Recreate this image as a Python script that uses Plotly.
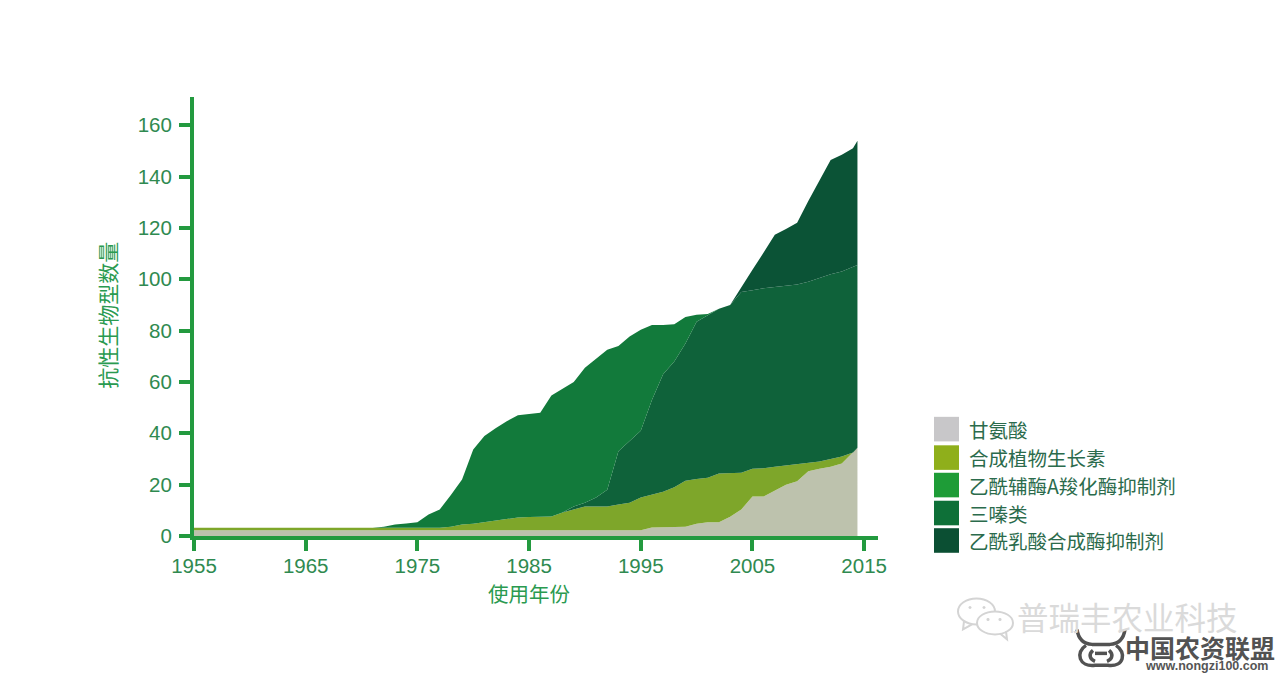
import plotly.graph_objects as go

years = list(range(1955, 2015)) + [2014.4]

glyphosate_top = [
    2.2, 2.2, 2.2, 2.2, 2.2, 2.2, 2.2, 2.2, 2.2, 2.2,
    2.2, 2.2, 2.2, 2.2, 2.2, 2.2, 2.2, 2.2, 2.2, 2.2,
    2.2, 2.2, 2.2, 2.2, 2.2, 2.2, 2.2, 2.2, 2.2, 2.2,
    2.2, 2.2, 2.2, 2.2, 2.2, 2.2, 2.2, 2.2, 2.2, 2.2,
    2.2, 3.3, 3.4, 3.5, 3.6, 4.8, 5.4, 5.4, 7.5, 10.3,
    15.4, 15.4, 17.8, 20.0, 21.3, 25.2, 26.2, 27.0, 28.2, 32.5, 34.4]
auxin_top = [
    3.2, 3.2, 3.2, 3.2, 3.2, 3.2, 3.2, 3.2, 3.2, 3.2,
    3.2, 3.2, 3.2, 3.2, 3.2, 3.2, 3.2, 3.2, 3.2, 3.2,
    3.2, 3.2, 3.2, 3.6, 4.5, 4.8, 5.4, 5.8, 6.5, 7.2,
    7.4, 7.6, 7.6, 9.2, 10.3, 11.5, 11.5, 11.5, 12.3, 13.0,
    15.0, 16.0, 17.2, 19.0, 21.5, 22.2, 22.7, 24.3, 24.5, 24.6,
    26.2, 26.4, 27.0, 27.5, 28.1, 28.5, 29.0, 30.0, 31.0, 32.5, 34.4]
dark_band_top = [
    3.2, 3.2, 3.2, 3.2, 3.2, 3.2, 3.2, 3.2, 3.2, 3.2,
    3.2, 3.2, 3.2, 3.2, 3.2, 3.2, 3.2, 3.2, 3.2, 3.2,
    3.2, 3.2, 3.2, 3.6, 4.5, 4.8, 5.4, 5.8, 6.5, 7.2,
    7.4, 7.6, 7.6, 9.2, 11.5, 13.0, 15.0, 18.0, 33.0, 37.0,
    41.0, 53.0, 63.0, 68.0, 75.0, 83.5, 86.0, 88.5, 90.0, 95.0,
    95.7, 96.5, 97.0, 97.5, 98.0, 99.0, 100.5, 102.0, 103.0, 105.0, 105.6]
light_band_top = [
    3.2, 3.2, 3.2, 3.2, 3.2, 3.2, 3.2, 3.2, 3.2, 3.2,
    3.2, 3.2, 3.2, 3.2, 3.2, 3.2, 3.2, 3.6, 4.5, 4.9,
    5.4, 8.4, 10.3, 16.0, 22.0, 33.7, 39.0, 42.0, 44.7, 47.0,
    47.4, 48.0, 54.7, 57.3, 60.0, 65.5, 69.0, 72.5, 74.0, 77.7,
    80.3, 82.2, 82.2, 82.5, 85.3, 86.2, 86.5, 88.5, 90.0, 95.0,
    95.7, 96.5, 97.0, 97.5, 98.0, 99.0, 100.5, 102.0, 103.0, 105.0, 105.6]
total_top = [
    3.2, 3.2, 3.2, 3.2, 3.2, 3.2, 3.2, 3.2, 3.2, 3.2,
    3.2, 3.2, 3.2, 3.2, 3.2, 3.2, 3.2, 3.6, 4.5, 4.9,
    5.4, 8.4, 10.3, 16.0, 22.0, 33.7, 39.0, 42.0, 44.7, 47.0,
    47.4, 48.0, 54.7, 57.3, 60.0, 65.5, 69.0, 72.5, 74.0, 77.7,
    80.3, 82.2, 82.2, 82.5, 85.3, 86.2, 86.5, 88.5, 90.0, 97.0,
    103.7, 110.4, 117.3, 119.6, 122.0, 130.5, 138.5, 146.5, 148.5, 151.0, 154.0]

legend_labels = ["甘氨酸", "合成植物生长素", "乙酰辅酶A羧化酶抑制剂", "三嗪类", "乙酰乳酸合成酶抑制剂"]
legend_colors = ["#C8C7C9", "#8FAF1B", "#1E9C37", "#0E7038", "#0B4F33"]
x_ticks = [1955, 1965, 1975, 1985, 1995, 2005, 2015]
y_ticks = [0, 20, 40, 60, 80, 100, 120, 140, 160]

AXIS = "#239A3F"
TICKTXT = "#2F8A50"
FONT = "Liberation Sans, Noto Sans CJK SC"
CJK = "Noto Sans CJK SC"
L, R, T, B = 194, 878, 97, 536.5
W, H = 1280, 675
LOGO = "#525252"
MARK = "#D4D4D4"


def px(x):
    return (x - L) / (R - L)


def py(y):
    return (B - y) / (B - T)


def pth(*parts):
    """Build a paper-coordinate SVG path from commands and pixel pairs."""
    out = []
    for p in parts:
        out.append(p if isinstance(p, str) else f"{px(p[0])},{py(p[1])}")
    return " ".join(out)


fig = go.Figure()
layers = [
    ("甘氨酸", glyphosate_top, "#BDC2AD", "tozeroy"),
    ("合成植物生长素", auxin_top, "#7EA62A", "tonexty"),
    ("乙酰辅酶A羧化酶抑制剂", dark_band_top, "#0F623A", "tonexty"),
    ("三嗪类", light_band_top, "#127A3B", "tonexty"),
    ("乙酰乳酸合成酶抑制剂", total_top, "#0B5336", "tonexty"),
]
for name, vals, col, fill in layers:
    fig.add_trace(go.Scatter(x=years, y=vals, name=name, mode="lines",
                             line=dict(width=0, color=col), fill=fill,
                             fillcolor=col, showlegend=False))

shapes = []
annotations = []
rows = [429.5, 458, 485.5, 513.5, 541]
for yc, lab, col in zip(rows, legend_labels, legend_colors):
    shapes.append(dict(type="rect", xref="paper", yref="paper", x0=px(934), x1=px(959),
                       y0=py(yc - 12.3), y1=py(yc + 12.3), fillcolor=col, line_width=0))
    annotations.append(dict(xref="paper", yref="paper", x=px(967), y=py(yc), text=lab, showarrow=False,
                            xanchor="left", yanchor="middle",
                            font=dict(family=CJK, size=19.5, color="#2B6B4C")))

annotations += [
    dict(xref="paper", yref="paper", x=px(529), y=py(594), text="使用年份", showarrow=False,
         xanchor="center", yanchor="middle", font=dict(family=CJK, size=20.5, color="#2A9A50")),
    dict(xref="paper", yref="paper", x=px(107), y=py(316), text="抗性生物型数量", showarrow=False, textangle=-90,
         xanchor="center", yanchor="middle", font=dict(family=CJK, size=21, color="#2A9A50")),
    dict(xref="paper", yref="paper", x=px(1127), y=py(617), text="普瑞丰农业科技", showarrow=False,
         xanchor="center", yanchor="middle", font=dict(family=CJK, size=31.5, color="#DADADA")),
    dict(xref="paper", yref="paper", x=px(1200), y=py(648), text="<b>中国农资联盟</b>", showarrow=False,
         xanchor="center", yanchor="middle", font=dict(family=CJK, size=25, color=LOGO)),
    dict(xref="paper", yref="paper", x=px(1206), y=py(667), text="<b>www.nongzi100.com</b>", showarrow=False,
         xanchor="center", yanchor="middle", font=dict(family="Liberation Sans", size=12.5, color="#555555")),
]

# watermark: chat bubbles
for x0, x1, y0, y1 in [(958, 995, 599, 625), (977, 1013, 612, 635)]:
    shapes.append(dict(type="circle", xref="paper", yref="paper", x0=px(x0), x1=px(x1), y0=py(y0), y1=py(y1),
                       line=dict(color=MARK, width=2), fillcolor="white"))
for cx, cy in [(970, 608), (984, 608), (988, 620), (1000, 620)]:
    shapes.append(dict(type="circle", xref="paper", yref="paper", x0=px(cx - 1.5), x1=px(cx + 1.5),
                       y0=py(cy - 1.5), y1=py(cy + 1.5), line_width=0, fillcolor=MARK))
shapes.append(dict(type="path", xref="paper", yref="paper", line=dict(color=MARK, width=2),
                   path=pth("M", (964, 622), "L", (963, 630), "L", (972, 625))))
shapes.append(dict(type="path", xref="paper", yref="paper", line=dict(color=MARK, width=2),
                   path=pth("M", (1000, 634), "L", (1007, 640), "L", (1006, 632))))

# watermark: bull head logo
logo_paths = [
    pth("M", (1077, 630), "Q", (1079, 644), (1092, 645), "L", (1110, 645), "Q", (1123, 644), (1125, 630)),
    pth("M", (1086, 646), "C", (1075, 653), (1079, 668), (1095, 666), "L", (1108, 666),
        "C", (1124, 668), (1127, 653), (1116, 646)),
    pth("M", (1093, 651), "C", (1088, 655), (1090, 660), (1095, 662)),
    pth("M", (1109, 651), "C", (1114, 655), (1112, 660), (1107, 662)),
    pth("M", (1095, 654), "L", (1107, 654)),
]
for path in logo_paths:
    shapes.append(dict(type="path", xref="paper", yref="paper", path=path,
                       line=dict(color=LOGO, width=3.5)))

fig.update_layout(
    width=W, height=H, paper_bgcolor="white", plot_bgcolor="white", showlegend=False,
    margin=dict(l=L, r=W - R, t=T, b=H - B, pad=0),
    font=dict(family=FONT, size=20.5, color=TICKTXT),
    xaxis=dict(range=[1955, 2016.24], tickmode="array", tickvals=x_ticks, ticks="outside", ticklen=11, tickwidth=4,
               tickcolor=AXIS, showline=True, linecolor=AXIS, linewidth=4, showgrid=False, zeroline=False,
               ticklabelstandoff=-3, tickfont=dict(family=FONT, size=20.5, color=TICKTXT)),
    yaxis=dict(range=[0, 171], tickmode="array", tickvals=y_ticks, ticks="outside", ticklen=11, tickwidth=4,
               tickcolor=AXIS, showline=True, linecolor=AXIS, linewidth=4, showgrid=False, zeroline=False,
               ticklabelstandoff=3, tickfont=dict(family=FONT, size=20.5, color=TICKTXT)),
    shapes=shapes, annotations=annotations,
)
for t in [glyphosate_top, auxin_top, dark_band_top, light_band_top, total_top]:
    assert len(t) == len(years), len(t)
fig.write_html("out.html", config={"displayModeBar": False},
               post_script="document.body.style.margin='0';document.documentElement.style.overflow='hidden';")
